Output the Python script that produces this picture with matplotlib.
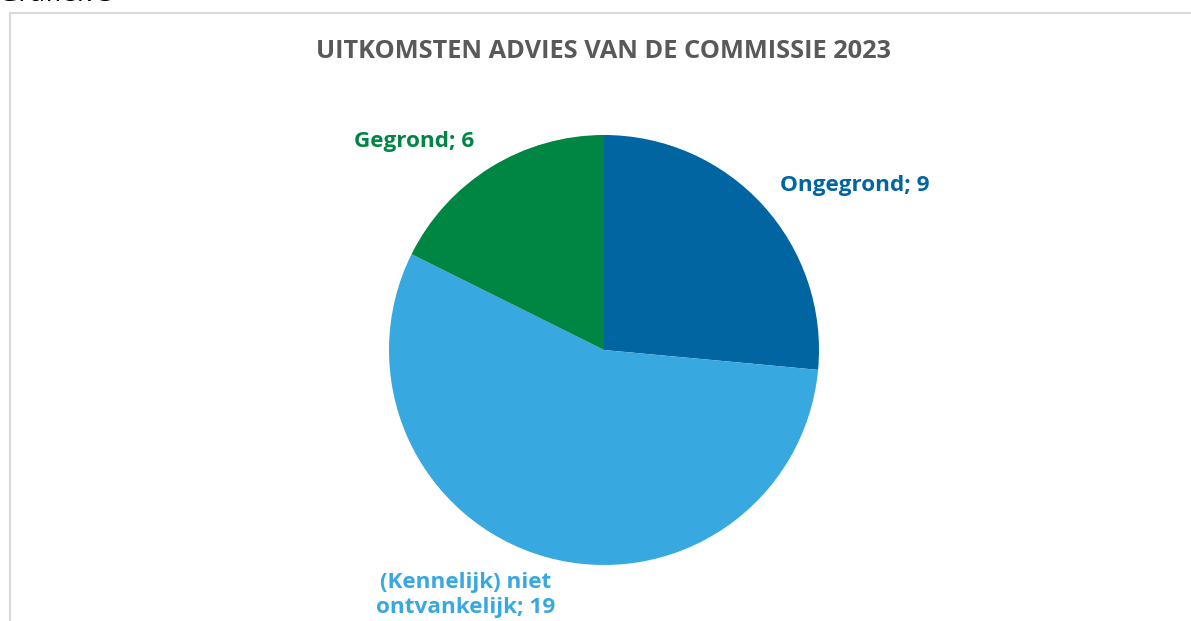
import matplotlib
matplotlib.use("Agg")
import matplotlib.pyplot as plt
from matplotlib.patches import Rectangle

# data
categories = ["Ongegrond", "(Kennelijk) niet\nontvankelijk", "Gegrond"]
counts = [9, 19, 6]
colors = ["#0065A1", "#38A8E0", "#008643"]
title = "UITKOMSTEN ADVIES VAN DE COMMISSIE 2023"

W, H = 1191, 621
fig = plt.figure(figsize=(W / 100, H / 100), dpi=100)
ax = fig.add_axes([0, 0, 1, 1])
ax.set_xlim(0, W)
ax.set_ylim(0, H)
ax.set_aspect("equal")
ax.axis("off")

# chart frame (cut off at right and bottom like the screenshot)
ax.add_patch(Rectangle((9.5, -20), W + 20, H - 12.5 + 20, fill=False,
                       edgecolor="#d9d9d9", linewidth=1.5))

ax.text(-2, H + 6, "Grafiek 3", fontsize=20, family="Open Sans",
        va="center", ha="left", color="#000000")

ax.text(604, H - 52, title, fontsize=18.3, family="Open Sans", weight="bold",
        color="#595959", ha="center", va="center")

wedges, _ = ax.pie(counts, colors=colors, startangle=90, counterclock=False,
                   center=(604, H - 350), radius=215,
                   wedgeprops=dict(linewidth=0))
ax.set_xlim(0, W)
ax.set_ylim(0, H)

# label positions (pixels in the original layout)
label_pos = [(855, 185), (466, 595), (414, 142)]
for cat, n, col, (px, py) in zip(categories, counts, colors, label_pos):
    ax.text(px, H - py, f"{cat}; {n}", fontsize=16.2, family="Open Sans",
            weight="bold", color=col, ha="center", va="center",
            linespacing=1.22)

fig.savefig("out.png", dpi=100)
